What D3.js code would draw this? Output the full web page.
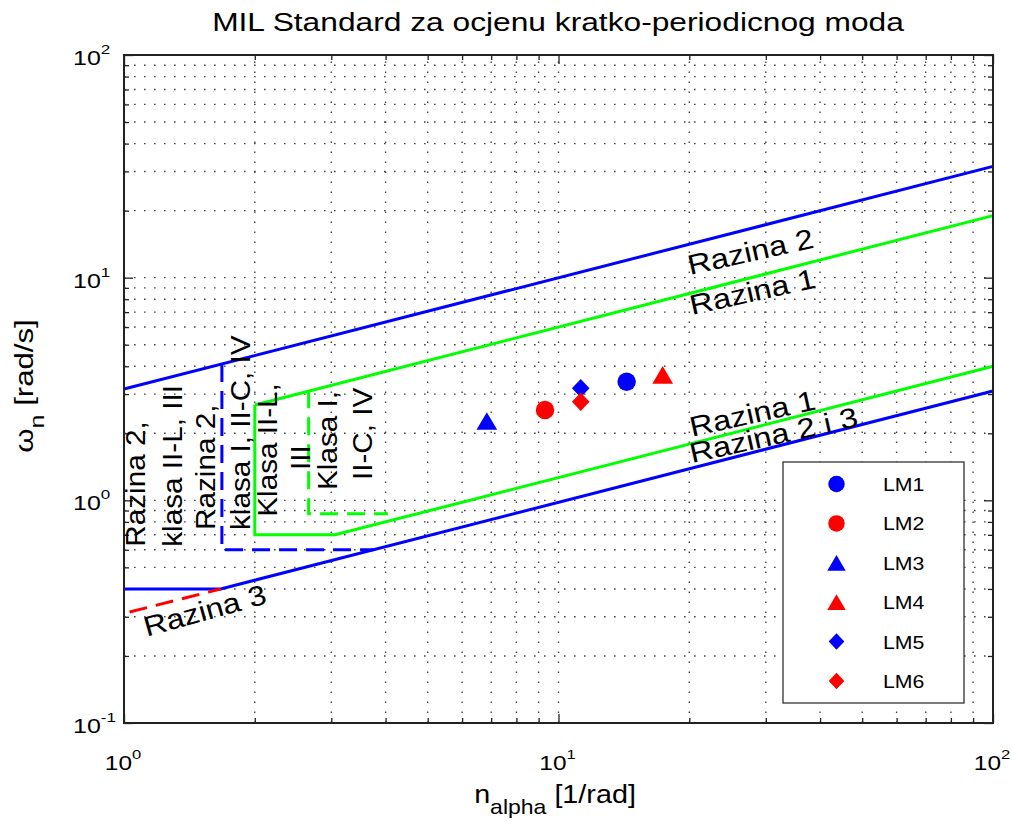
<!DOCTYPE html>
<html><head><meta charset="utf-8">
<script src="https://cdn.jsdelivr.net/npm/d3@7"></script>
<style>body{margin:0;background:#fff}</style>
</head><body>
<svg id="chart" width="1012" height="825"></svg>
<script>
// ---------- data ----------
const titleText = "MIL Standard za ocjenu kratko-periodicnog moda";
const xMajorTicks = [1, 10, 100];
const xMajorExp = ["0", "1", "2"];
const yMajorTicks = [0.1, 1, 10, 100];
const yMajorExp = ["-1", "0", "1", "2"];
const xMinorTicks = [2, 3, 4, 5, 6, 7, 8, 9, 20, 30, 40, 50, 60, 70, 80, 90];
const yMinorTicks = [0.2, 0.3, 0.4, 0.5, 0.6, 0.7, 0.8, 0.9, 2, 3, 4, 5, 6, 7, 8, 9, 20, 30, 40, 50, 60, 70, 80, 90];

// boundary lines [n_alpha, omega_n]
const razina2Upper = [[1, 3.16], [100, 31.6]];
const razina1Upper = [[2, 2.68], [100, 19.0]];
const razina1Box = [[2, 2.68], [2, 0.7], [3.06, 0.7], [100, 4.0]];
const razina1Dashed = [[2.66, 3.12], [2.66, 0.87], [4.05, 0.87]];
const razina2Lower = [[1, 0.4], [1.67, 0.4], [100, 3.1]];
const razina2Dashed = [[1.68, 4.1], [1.68, 0.6], [3.75, 0.6]];
const razina3Dashed = [[1.03, 0.315], [1.67, 0.4]];

// measured points
const lmNames = ["LM1", "LM2", "LM3", "LM4", "LM5", "LM6"];
const lmN = [14.35, 9.31, 6.84, 17.37, 11.25, 11.25];
const lmOmega = [3.41, 2.545, 2.27, 3.66, 3.185, 2.773];

// ---------- styles ----------
const FONT = "'Liberation Sans', Arial, Helvetica, sans-serif";
const BLUE = "#0000ff", RED = "#ff0000", GREEN = "#00ff00";
const lmColor = [BLUE, RED, BLUE, RED, BLUE, RED];
const lmShape = ["circle", "circle", "triangle", "triangle", "diamond", "diamond"];

const svg = d3.select("#chart");
const x = d3.scaleLog().domain([1, 100]).range([124, 993]);
const y = d3.scaleLog().domain([0.1, 100]).range([723, 55]);
const X0 = x.range()[0], X1 = x.range()[1], Y0 = y.range()[0], Y1 = y.range()[1];

svg.append("rect").attr("width", 1012).attr("height", 825).attr("fill", "#fff");

// grid
const grid = svg.append("g").attr("stroke", "#444").attr("stroke-width", 1.4)
  .attr("stroke-dasharray", "1.6,8.4");
grid.selectAll("line.vx").data(xMinorTicks.concat([10])).enter().append("line")
  .attr("x1", d => x(d)).attr("x2", d => x(d)).attr("y1", Y0).attr("y2", Y1);
grid.selectAll("line.hy").data(yMinorTicks.concat([1, 10])).enter().append("line")
  .attr("y1", d => y(d)).attr("y2", d => y(d)).attr("x1", X0).attr("x2", X1);

// ticks on all sides (inward)
function ticks(gen, tr, vals, size) {
  const g = svg.append("g").attr("transform", tr)
    .call(gen.tickValues(vals).tickSize(size).tickSizeOuter(0).tickFormat(""));
  g.select(".domain").remove();
  g.selectAll("line").attr("stroke", "#222").attr("stroke-width", 1.3);
}
ticks(d3.axisBottom(x), `translate(0,${Y0})`, xMajorTicks, -9);
ticks(d3.axisBottom(x), `translate(0,${Y0})`, xMinorTicks, -5);
ticks(d3.axisTop(x), `translate(0,${Y1})`, xMajorTicks, -9);
ticks(d3.axisTop(x), `translate(0,${Y1})`, xMinorTicks, -5);
ticks(d3.axisLeft(y), `translate(${X0},0)`, yMajorTicks, -9);
ticks(d3.axisLeft(y), `translate(${X0},0)`, yMinorTicks, -5);
ticks(d3.axisRight(y), `translate(${X1},0)`, yMajorTicks, -9);
ticks(d3.axisRight(y), `translate(${X1},0)`, yMinorTicks, -5);

// lines
const line = d3.line().x(d => x(d[0])).y(d => y(d[1]));
function path(data, color, dashed) {
  svg.append("path").attr("d", line(data)).attr("fill", "none")
    .attr("stroke", color).attr("stroke-width", 3)
    .attr("stroke-dasharray", dashed ? "18,9" : null);
}
path(razina2Upper, BLUE, false);
path(razina1Upper, GREEN, false);
path(razina1Box, GREEN, false);
path(razina1Dashed, GREEN, true);
path(razina2Lower, BLUE, false);
path(razina2Dashed, BLUE, true);
path(razina3Dashed, RED, true);

// axes box
svg.append("rect").attr("x", X0).attr("y", Y1).attr("width", X1 - X0).attr("height", Y0 - Y1)
  .attr("fill", "none").attr("stroke", "#222").attr("stroke-width", 2);

// text helper
function label(px, py, o, parts) {
  const g = svg.append("g")
    .attr("transform", `translate(${px},${py}) rotate(${o.angle || 0}) scale(${o.sx || 1},1)`);
  const t = g.append("text").attr("font-family", FONT).attr("font-size", o.size)
    .attr("text-anchor", o.anchor || "start").attr("fill", "#000");
  let shift = 0;
  parts.forEach(p => {
    const s = typeof p === "string" ? { t: p } : p;
    let target = 0, fs = o.size;
    if (s.sup) { target = -o.size * 0.55; fs = o.size * 0.68; }
    if (s.sub) { target = o.size * 0.42; fs = o.size * 0.8; }
    t.append("tspan").attr("dy", target - shift).attr("font-size", fs).text(s.t);
    shift = target;
  });
  return t;
}

// tick labels
xMajorTicks.forEach((v, i) => label(x(v) - 1, 770, { size: 20, sx: 1.22, anchor: "middle" },
  ["10", { t: xMajorExp[i], sup: true }]));
yMajorTicks.forEach((v, i) => label(73, y(v) + 10, { size: 20, sx: 1.25 },
  ["10", { t: yMajorExp[i], sup: true }]));

// title and axis labels
label(558, 31, { size: 26, sx: 1.22, anchor: "middle" }, [titleText]);
label(555, 803, { size: 25, sx: 1.15, anchor: "middle" }, ["n", { t: "alpha", sub: true }, " [1/rad]"]);
label(33, 386, { size: 26, sx: 1.2, anchor: "middle", angle: -90 }, ["ω", { t: "n", sub: true }, " [rad/s]"]);

// annotations along lines
const ANG = -12.5;
label(x(20.07), y(10.28), { size: 28, angle: ANG, sx: 1.16 }, ["Razina 2"]);
label(x(20.3), y(6.80), { size: 28, angle: ANG, sx: 1.16 }, ["Razina 1"]);
label(x(20.3), y(1.93), { size: 28, angle: ANG, sx: 1.16 }, ["Razina 1"]);
label(x(20.3), y(1.47), { size: 28, angle: ANG, sx: 1.16 }, ["Razina 2 i 3"]);
label(x(1.128), y(0.244), { size: 28, angle: -15.5, sx: 1.14 }, ["Razina 3"]);

// vertical annotations
const vt = [
  [1.118, 0.619, "Razina 2,"],
  [1.36, 0.619, "klasa II-L, III"],
  [1.62, 0.736, "Razina 2,"],
  [1.95, 0.736, "klasa I, II-C, IV"],
  [2.25, 0.844, "Klasa II-L,"],
  [2.68, 1.369, "III"],
  [3.09, 1.113, "Klasa I,"],
  [3.72, 1.234, "II-C, IV"]
];
vt.forEach(d => label(x(d[0]), y(d[1]), { size: 28, angle: -90, sx: 1.06 }, [d[2]]));

// markers
function marker(sel, shape, cx, cy, sz, color) {
  if (shape === "circle") {
    sel.append("circle").attr("cx", cx).attr("cy", cy).attr("r", sz / 2).attr("fill", color);
  } else if (shape === "triangle") {
    const w = sz * 1.12, h = sz * 0.95;
    sel.append("path").attr("d", `M${cx},${cy - h / 2}L${cx + w / 2},${cy + h / 2}L${cx - w / 2},${cy + h / 2}Z`).attr("fill", color);
  } else {
    const w = sz * 0.95, h = sz;
    sel.append("path").attr("d", `M${cx},${cy - h / 2}L${cx + w / 2},${cy}L${cx},${cy + h / 2}L${cx - w / 2},${cy}Z`).attr("fill", color);
  }
}
const pts = svg.append("g");
lmNames.forEach((n, i) => marker(pts, lmShape[i], x(lmN[i]), y(lmOmega[i]), 18.5, lmColor[i]));

// legend
const lg = svg.append("g");
lg.append("rect").attr("x", 783).attr("y", 462).attr("width", 181).attr("height", 241)
  .attr("fill", "#fff").attr("stroke", "#333").attr("stroke-width", 1.3);
const rowY = d3.scalePoint().domain(lmNames).range([484, 681]);
lmNames.forEach((n, i) => {
  marker(lg, lmShape[i], 836.5, rowY(n), 16.5, lmColor[i]);
  label(883, rowY(n) + 7, { size: 19, sx: 1.12 }, [n]);
});
</script>
</body></html>
